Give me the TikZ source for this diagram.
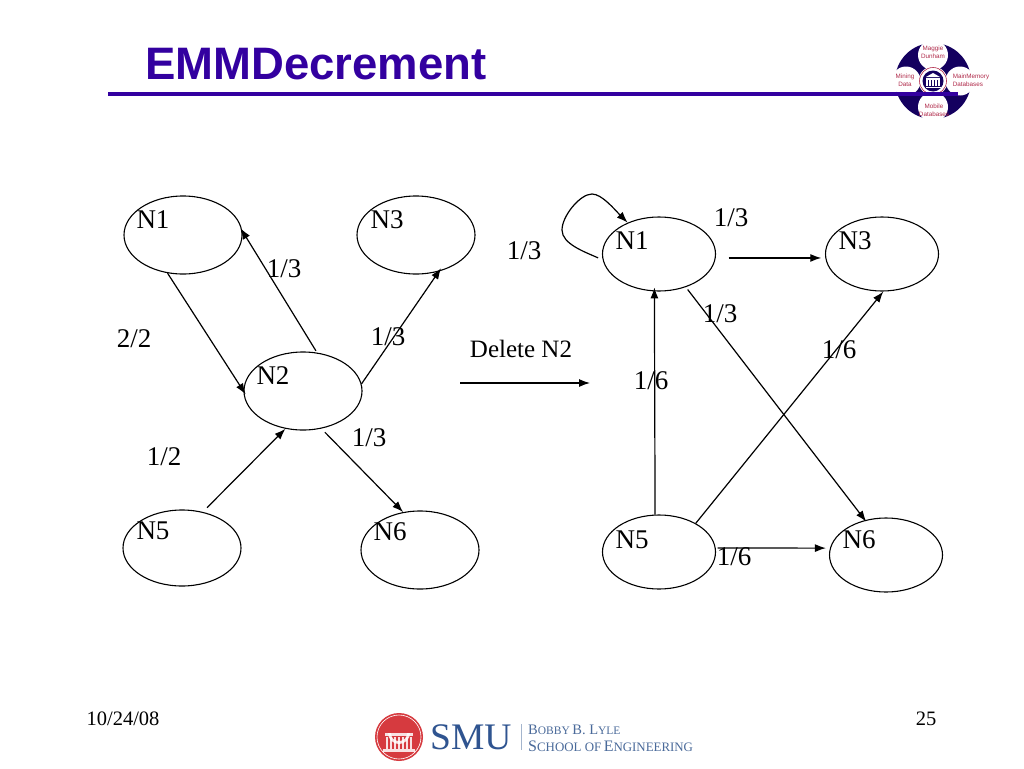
\documentclass[tikz,border=0pt]{standalone}
\usepackage{fontspec}
\setmainfont{Liberation Serif}
\newfontfamily\headfont{Liberation Sans}
\usetikzlibrary{shapes.geometric,arrows.meta}
\definecolor{titlecol}{HTML}{3300A0}
\definecolor{logonavy}{HTML}{14005F}
\definecolor{logored}{HTML}{B02A4A}
\definecolor{smured}{HTML}{D63A3F}
\definecolor{smublue}{HTML}{2F5490}
\definecolor{smugrey}{HTML}{4A6A9A}
\newcommand{\sczA}[1]{{\fontsize{14.5}{15}\selectfont #1}}
\newcommand{\sczB}[1]{{\fontsize{11.5}{12}\selectfont #1}}
\newcommand{\sczC}[1]{{\fontsize{16}{17}\selectfont #1}}
\newcommand{\sczD}[1]{{\fontsize{12.9}{14}\selectfont #1}}
\tikzset{
  x=1pt,y=-1pt,
  bigstate/.style={draw=black,line width=1.1pt,ellipse,minimum width=118pt,minimum height=78pt,inner sep=0pt},
  smallstate/.style={draw=black,line width=1.1pt,ellipse,minimum width=113pt,minimum height=74pt,inner sep=0pt},
  lab/.style={anchor=base,inner sep=0pt,font=\fontsize{27}{30}\selectfont},
  foot/.style={anchor=base,inner sep=0pt,font=\fontsize{20.5}{24}\selectfont},
  edge/.style={line width=1.2pt,-{Latex[length=11pt,width=8pt]}},
  logotext/.style={anchor=center,inner sep=0pt,align=center,text=logored,font=\headfont\fontsize{6.3}{7.5}\selectfont}
}
\begin{document}
\begin{tikzpicture}
\useasboundingbox (0,0) rectangle (1024,768);
\fill[white] (0,0) rectangle (1024,768);

% title
\node[anchor=base west,inner sep=0pt,text=titlecol,font=\headfont\bfseries\fontsize{45.5}{50}\selectfont] (title) at (145,79) {EMMDecrement};

% corner logo
\fill[logonavy] (933,81) circle (38);
\fill[white] (933,55) circle (15);
\fill[white] (933,107) circle (15);
\fill[white] (906,81) circle (14.5);
\fill[white] (960,81) circle (14.5);
\fill[white] (933,81) circle (14.5);
\draw[logored,line width=0.6pt] (933,81) circle (13.5);
\fill[logonavy] (933,81) circle (10.5);
\fill[white] (926,77) -- (933,73) -- (940,77) -- cycle;
\fill[white] (926,78) rectangle (940,79.5);
\foreach \xp in {927,930,933,936,939} \fill[white] (\xp-0.6,80) rectangle (\xp+0.6,86);
\fill[white] (925.5,86.5) rectangle (940.5,88);
\node[logotext] (lgA) at (933,52) {Maggie\\Dunham};
\node[logotext] (lgB) at (905,80) {Mining\\Data};
\node[logotext,align=left] (lgC) at (971,80) {MainMemory\\Databases};
\node[logotext] (lgD) at (934,110) {Mobile\\Databases};

% rule
\fill[titlecol] (108,92) rectangle (958,96);

% left graph
\node[bigstate] (la) at (183,235) {};
\node[bigstate] (lc) at (416,235) {};
\node[bigstate] (lb) at (303,391) {};
\node[bigstate,minimum height=76pt] (le) at (182,548) {};
\node[bigstate] (lf) at (420,550) {};

\node[lab] (tla) at (153,228) {N1};
\node[lab] (tlc) at (387,228) {N3};
\node[lab] (tlb) at (273,384) {N2};
\node[lab] (tle) at (153,539) {N5};
\node[lab] (tlf) at (390,540) {N6};
\node[lab] (e1) at (284,277) {1/3};
\node[lab] (e2) at (134,347) {2/2};
\node[lab] (e3) at (388,345) {1/3};
\node[lab] (e4) at (164,465) {1/2};
\node[lab] (e5) at (369,446) {1/3};

\draw[edge,shorten >=-4pt] (la.-112) -- (lb.180);
\draw[edge,shorten <=2pt,shorten >=-3pt] (lb.70) -- (la.4);
\draw[edge,shorten >=-4pt] (lb.7) -- (lc.-58);
\draw[edge,shorten <=6pt] (le.60) -- (lb.-115);
\draw[edge,shorten <=5pt] (lb.-64) -- (lf.114);

% middle arrow
\node[foot,font=\fontsize{25}{28}\selectfont] (del) at (521,357) {Delete N2};
\coordinate (da) at (460,383);
\coordinate (db) at (590,383);
\draw[edge] (da) -- (db);

% right graph
\node[smallstate] (ra) at (659,254) {};
\node[smallstate] (rc) at (882,254) {};
\node[smallstate] (re) at (659,552) {};
\node[smallstate] (rf) at (886,555) {};

\node[lab] (tra) at (632,249) {N1};
\node[lab] (trc) at (855,249) {N3};
\node[lab] (tre) at (632,548) {N5};
\node[lab] (trf) at (859,548) {N6};
\node[lab] (f1) at (731,226) {1/3};
\node[lab] (f2) at (524,259) {1/3};
\node[lab] (f3) at (720,322) {1/3};
\node[lab] (f4) at (839,358) {1/6};
\node[lab] (f5) at (651,389) {1/6};
\node[lab] (f6) at (734,565) {1/6};

\draw[edge,shorten <=5pt]
  (ra.186) .. controls (585,252) and (562,244) .. (562,230)
  .. controls (562,216) and (580,194) .. (592,194)
  .. controls (602,194) and (615,210) .. (ra.135);
\draw[edge,shorten <=13pt,shorten >=4pt] (ra.-4) -- (rc.184);
\draw[edge,shorten >=-4pt] (re.96) -- (ra.-97);
\draw[edge,shorten <=3pt,shorten >=-2pt] (ra.-51) -- (rf.121);
\draw[edge] (re.38) -- (rc.-88);
\draw[edge,shorten <=2pt,shorten >=4pt] (re.4) -- (rf.173);

% footer
\node[foot] (date) at (123,725) {10/24/08};
\node[foot] (page) at (926,725) {25};

% SMU logo
\fill[smured] (399,737) circle (24);
\draw[white,line width=0.6pt] (399,737) circle (22);
\fill[white,opacity=0.85] (388,733) arc (180:0:11) -- cycle;
\fill[smured] (391,733) arc (180:0:8) -- cycle;
\fill[white,opacity=0.85] (385,733) rectangle (413,736);
\foreach \xp in {387,391,395,399,403,407,411} \fill[white,opacity=0.85] (\xp-1,737) rectangle (\xp+1,749);
\fill[white,opacity=0.85] (383,749) rectangle (415,752);
\node[anchor=base west,inner sep=0pt,text=smublue,font=\fontsize{37.5}{40}\selectfont] (smu) at (430,749) {SMU};
\fill[smugrey!50] (520.5,724) rectangle (521.5,750);
\node[anchor=base west,inner sep=0pt,text=smugrey] (bobby) at (528,734) {\sczA{B}\sczB{OBBY} \sczA{B. L}\sczB{YLE}};
\node[anchor=base west,inner sep=0pt,text=smugrey] (school) at (528,751) {\sczC{S}\sczD{CHOOL OF} \sczC{E}\sczD{NGINEERING}};
\end{tikzpicture}
\end{document}
